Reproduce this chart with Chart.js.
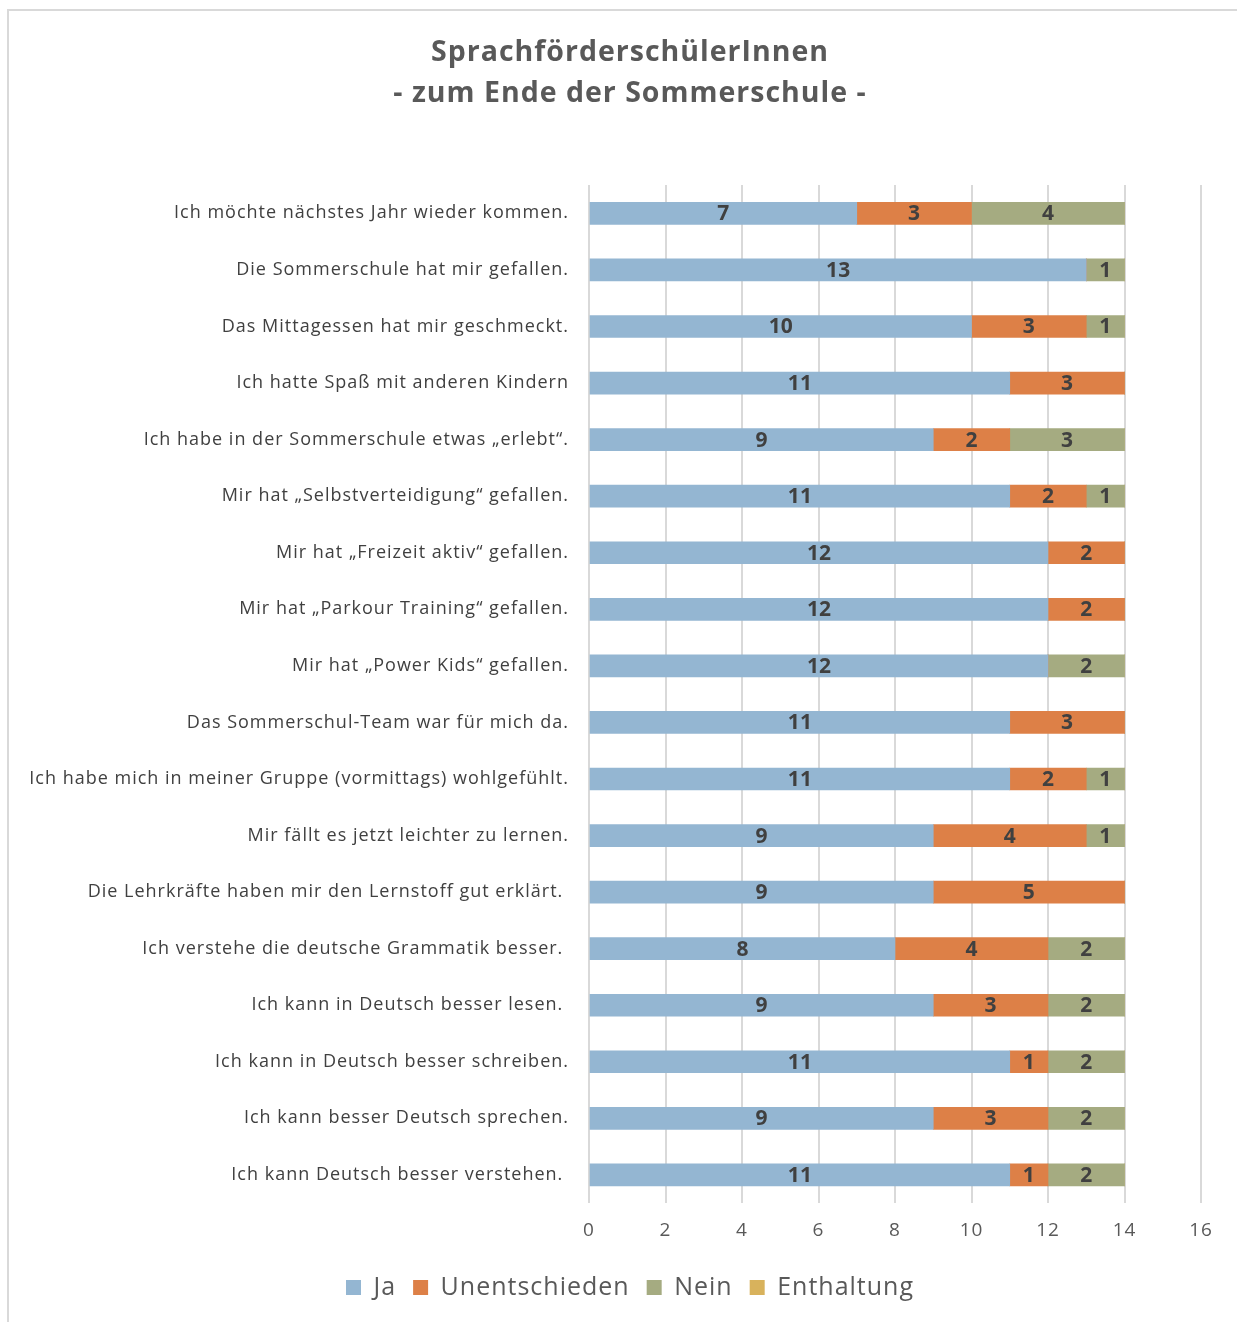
<!DOCTYPE html>
<html lang="de">
<head>
<meta charset="utf-8">
<title>SprachförderschülerInnen - zum Ende der Sommerschule</title>
<script src="https://cdn.jsdelivr.net/npm/chart.js@4/dist/chart.umd.min.js"></script>
<style>
  html, body { margin: 0; padding: 0; background: #fff; }
  body { width: 1237px; height: 1322px; overflow: hidden; position: relative; }
  #frame {
    position: absolute; left: 7px; top: 9px; width: 1230px; height: 1313px;
    border-left: 2px solid #d9d9d9; border-top: 2px solid #d9d9d9;
    box-sizing: border-box;
  }
  #wrap { position: absolute; left: 9px; top: 11px; width: 1228px; height: 1311px; }
</style>
</head>
<body>
<div id="frame"></div>
<div id="wrap"><canvas id="surveyChart"></canvas></div>
<script>
// Kategorien (von oben nach unten)
const categories = [
  'Ich möchte nächstes Jahr wieder kommen.',
  'Die Sommerschule hat mir gefallen.',
  'Das Mittagessen hat mir geschmeckt.',
  'Ich hatte Spaß mit anderen Kindern',
  'Ich habe in der Sommerschule etwas „erlebt“.',
  'Mir hat „Selbstverteidigung“ gefallen.',
  'Mir hat „Freizeit aktiv“ gefallen.',
  'Mir hat „Parkour Training“ gefallen.',
  'Mir hat „Power Kids“ gefallen.',
  'Das Sommerschul-Team war für mich da.',
  'Ich habe mich in meiner Gruppe (vormittags) wohlgefühlt.',
  'Mir fällt es jetzt leichter zu lernen.',
  'Die Lehrkräfte haben mir den Lernstoff gut erklärt. ',
  'Ich verstehe die deutsche Grammatik besser. ',
  'Ich kann in Deutsch besser lesen. ',
  'Ich kann in Deutsch besser schreiben.',
  'Ich kann besser Deutsch sprechen.',
  'Ich kann Deutsch besser verstehen. '
];

// Antworten je Frage
const ja            = [7, 13, 10, 11, 9, 11, 12, 12, 12, 11, 11, 9, 9, 8, 9, 11, 9, 11];
const unentschieden = [3, 0, 3, 3, 2, 2, 2, 2, 0, 3, 2, 4, 5, 4, 3, 1, 3, 1];
const nein          = [4, 1, 1, 0, 3, 1, 0, 0, 2, 0, 1, 1, 0, 2, 2, 2, 2, 2];
const enthaltung    = [0, 0, 0, 0, 0, 0, 0, 0, 0, 0, 0, 0, 0, 0, 0, 0, 0, 0];

const xTicks = [0, 2, 4, 6, 8, 10, 12, 14, 16];

const FONT = '"Open Sans", Lato, sans-serif';

// etwas breitere Laufweite, wie die Originalschrift
const spacing = {
  id: 'spacing',
  beforeUpdate(chart) { chart.ctx.letterSpacing = '1px'; },
  beforeDraw(chart) { chart.ctx.letterSpacing = '1px'; }
};

// Werte mittig in die Balken schreiben
const barLabels = {
  id: 'barLabels',
  afterDatasetsDraw(chart) {
    const ctx = chart.ctx;
    ctx.save();
    ctx.letterSpacing = '0px';
    ctx.font = 'bold 21px ' + FONT;
    ctx.fillStyle = '#404040';
    ctx.textAlign = 'center';
    ctx.textBaseline = 'middle';
    chart.data.datasets.forEach((ds, i) => {
      const meta = chart.getDatasetMeta(i);
      if (meta.hidden) return;
      meta.data.forEach((bar, j) => {
        const v = ds.data[j];
        if (!v) return;
        ctx.fillText(String(v), (bar.x + bar.base) / 2, bar.y + 1);
      });
    });
    ctx.restore();
  }
};

new Chart(document.getElementById('surveyChart'), {
  type: 'bar',
  data: {
    labels: categories,
    datasets: [
      { label: 'Ja', data: ja, backgroundColor: '#94b6d2' },
      { label: 'Unentschieden', data: unentschieden, backgroundColor: '#dd8047' },
      { label: 'Nein', data: nein, backgroundColor: '#a5ab81' },
      { label: 'Enthaltung', data: enthaltung, backgroundColor: '#d8b25c' }
    ]
  },
  options: {
    indexAxis: 'y',
    responsive: true,
    maintainAspectRatio: false,
    animation: false,
    // links Platz lassen, damit Titel und Legende mittig sitzen wie im Original
    layout: { padding: { left: 50, right: 36, top: 0, bottom: 12 } },
    datasets: {
      bar: { barThickness: 22, borderWidth: 0 }
    },
    plugins: {
      title: {
        display: true,
        text: ['SprachförderschülerInnen', '- zum Ende der Sommerschule -'],
        color: '#595959',
        font: { family: FONT, size: 28.5, weight: 'bold', lineHeight: 1.44 },
        padding: { top: 21, bottom: 71 }
      },
      legend: {
        position: 'bottom',
        labels: {
          color: '#595959',
          font: { family: FONT, size: 25 },
          boxWidth: 15,
          boxHeight: 15,
          padding: 17
        }
      },
      tooltip: { enabled: false }
    },
    scales: {
      x: {
        stacked: true,
        min: 0,
        max: 16,
        afterBuildTicks(scale) { scale.ticks = xTicks.map(v => ({ value: v })); },
        grid: { color: '#d9d9d9', lineWidth: 2, drawTicks: false },
        border: { display: false },
        ticks: { color: '#595959', font: { family: FONT, size: 19 }, padding: 16 }
      },
      y: {
        stacked: true,
        afterFit(scale) {
          scale.width = 530;
          // lange Beschriftungen nicht am Achsenrand abschneiden
          scale._computeLabelArea = () => undefined;
        },
        grid: { display: false, drawTicks: false },
        border: { display: false },
        ticks: { color: '#404040', font: { family: FONT, size: 18 }, padding: 20 }
      }
    }
  },
  plugins: [spacing, barLabels]
});
</script>
</body>
</html>
